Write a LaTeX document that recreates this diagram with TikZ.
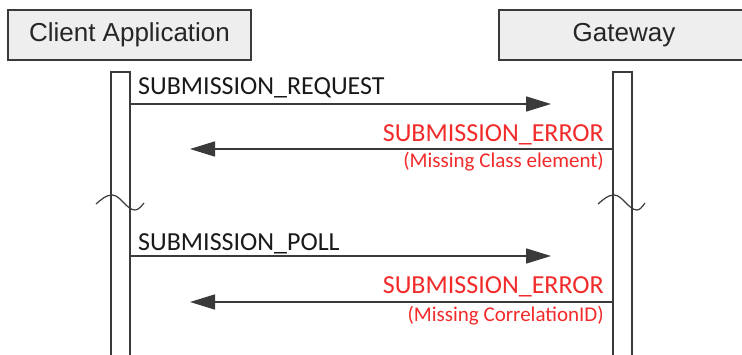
\documentclass[tikz,border=0pt]{standalone}
\usepackage{fontspec}
\setmainfont{Carlito}
\newfontfamily\headfont{Liberation Sans}
\usetikzlibrary{arrows.meta,positioning}
\definecolor{linegray}{HTML}{3A3A3A}
\definecolor{boxgray}{HTML}{EEEEEE}
\definecolor{errred}{HTML}{F22A2A}

\begin{document}
\begin{tikzpicture}[x=1pt,y=-1pt,
  head/.style={draw=linegray,line width=1.6pt,fill=boxgray,minimum height=50pt,inner sep=0pt,text=black!85,font=\headfont\fontsize{26}{30}\selectfont},
  bar/.style={draw=linegray,line width=1.6pt,fill=white,minimum width=19pt,minimum height=300pt,anchor=north,inner sep=0pt},
  msg/.style={draw=linegray,line width=1.6pt,-{Triangle[length=25pt,width=15pt]}},
  lbl/.style={inner sep=0pt,text=black!90,font=\fontsize{26}{30}\selectfont},
  err/.style={inner sep=0pt,text=errred,font=\fontsize{26}{30}\selectfont},
  note/.style={inner sep=0pt,text=errred,font=\fontsize{21}{24}\selectfont},
  brk/.style={draw=linegray,line width=1.2pt}]
\clip (0,0) rectangle (742,355);
\fill[white] (0,0) rectangle (742,355);
% lifelines
\node[head,minimum width=243pt] (client) at (129.5,35) {Client Application};
\node[head,minimum width=250pt] (gateway) at (624,35) {Gateway};
\node[bar] (cbar) at (120.5,71) {};
\node[bar] (gbar) at (622.5,71) {};
% message ends
\coordinate (req-s) at (130,104);
\coordinate (req-e) at (551,104);
\coordinate (err1-s) at (613,149);
\coordinate (err1-e) at (190,149);
\coordinate (poll-s) at (130,256);
\coordinate (poll-e) at (551,256);
\coordinate (err2-s) at (613,302);
\coordinate (err2-e) at (190,302);
% messages
\draw[msg] (req-s) -- (req-e);
\draw[msg] (err1-s) -- (err1-e);
\draw[msg] (poll-s) -- (poll-e);
\draw[msg] (err2-s) -- (err2-e);
\node[lbl,anchor=base west] (reqtext) at (138,95) {SUBMISSION\_REQUEST};
\node[err,anchor=base east] (err1text) at (604,142) {SUBMISSION\_ERROR};
\node[note,anchor=base east] (err1note) at (604,168) {(Missing Class element)};
\node[lbl,anchor=base west] (polltext) at (138,251) {SUBMISSION\_POLL};
\node[err,anchor=base east] (err2text) at (604,294) {SUBMISSION\_ERROR};
\node[note,anchor=base east] (err2note) at (604,322) {(Missing CorrelationID)};
% breaks
\draw[brk] (96,204) sin (112,195) cos (124,203) sin (135,210) cos (144,203);
\draw[brk] (598,204) sin (614,195) cos (626,203) sin (637,210) cos (645,203);
\end{tikzpicture}
\end{document}
